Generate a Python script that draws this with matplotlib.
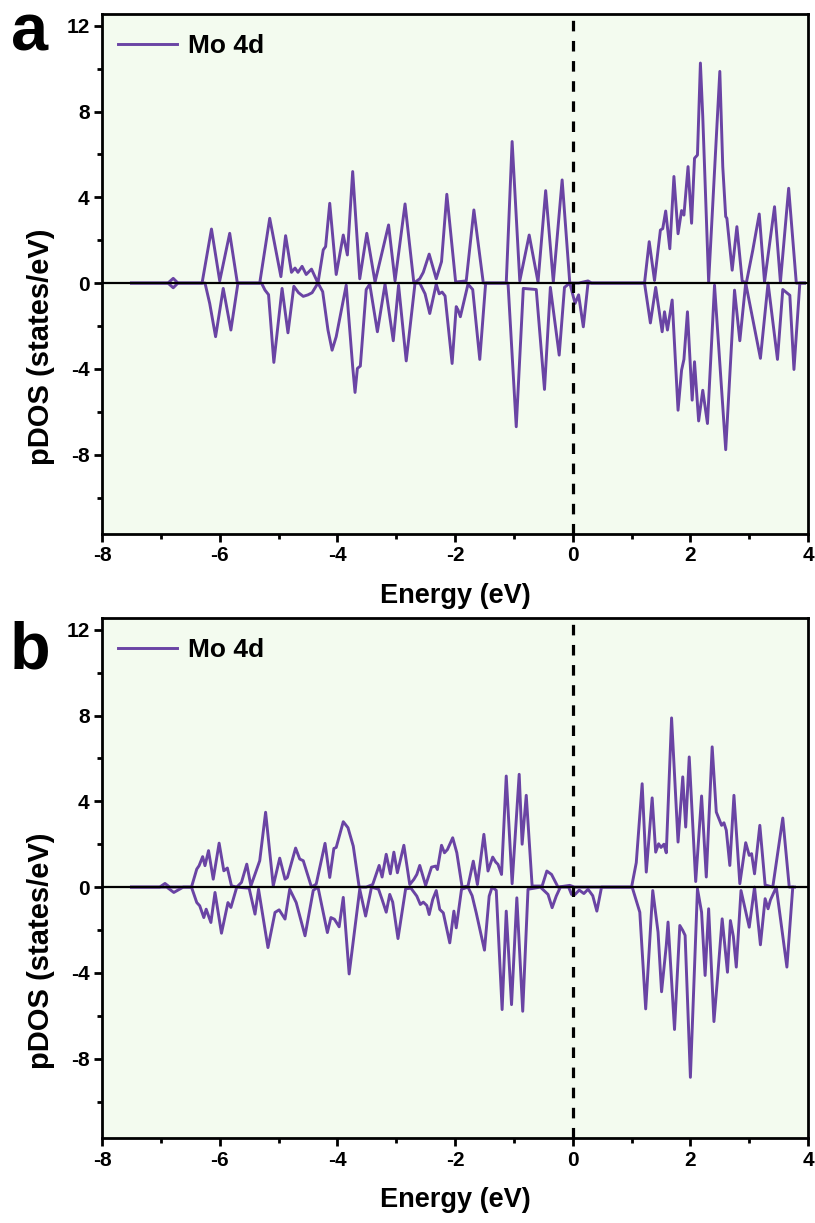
import numpy as np
import matplotlib
matplotlib.use("Agg")
import matplotlib.pyplot as plt
from matplotlib.ticker import MultipleLocator

plt.rcParams['font.family'] = ['Liberation Sans', 'DejaVu Sans']
plt.rcParams['font.weight'] = 'bold'
plt.rcParams['axes.unicode_minus'] = False

# ---- panel a : Mo 4d, spin up / spin down ----
a_up_x = [-7.5, -6.88, -6.79, -6.71, -6.30, -6.14, -6.00, -5.83, -5.70, -5.32, -5.15, -4.96, -4.88,
          -4.78, -4.72, -4.67, -4.60, -4.53, -4.44, -4.33, -4.24, -4.20, -4.13, -4.02, -3.90, -3.83,
          -3.74, -3.62, -3.50, -3.36, -3.13, -3.02, -2.85, -2.70, -2.60, -2.54, -2.44, -2.32, -2.23,
          -2.14, -1.99, -1.81, -1.68, -1.52, -1.13, -1.03, -0.90, -0.74, -0.59, -0.46, -0.33, -0.18,
          -0.05, 0.10, 0.18, 0.26, 0.32, 1.22, 1.30, 1.39, 1.49, 1.53, 1.58, 1.65, 1.72, 1.79, 1.85,
          1.89, 1.96, 2.02, 2.07, 2.12, 2.17, 2.21, 2.31, 2.50, 2.55, 2.60, 2.62, 2.71, 2.79, 2.88,
          2.95, 3.06, 3.17, 3.26, 3.43, 3.53, 3.67, 3.80, 3.94]
a_up_y = [0, 0, 0.22, 0, 0, 2.52, 0.1, 2.32, 0, 0, 3.02, 0.3, 2.21,
          0.5, 0.7, 0.5, 0.78, 0.4, 0.65, 0, 1.55, 1.7, 3.72, 0.4, 2.24, 1.31,
          5.2, 0.2, 2.32, 0.05, 2.71, 0.1, 3.69, 0, 0.2, 0.5, 1.35, 0.2, 1.0,
          4.14, 0.05, 0.1, 3.41, 0, 0, 6.6, 0.1, 2.24, 0.05, 4.31, 0.05, 4.81,
          0, 0, 0.05, 0.1, 0, 0, 1.93, 0.12, 2.47, 2.54, 3.36, 1.6, 4.97, 2.30, 3.38,
          3.17, 5.43, 2.79, 5.82, 5.97, 10.26, 7.77, 0.05, 9.87, 5.43, 3.1, 3.02, 0.6, 2.63, 0.1,
          0, 1.53, 3.22, 0.05, 3.56, 0.05, 4.42, 0, 0]

a_dn_x = [-7.5, -6.88, -6.79, -6.71, -6.25, -6.17, -6.07, -5.94, -5.81, -5.69, -5.29, -5.23, -5.17,
          -5.08, -4.94, -4.84, -4.74, -4.66, -4.58, -4.50, -4.43, -4.33, -4.25, -4.16, -4.09, -4.02,
          -3.85, -3.74, -3.70, -3.66, -3.61, -3.51, -3.45, -3.32, -3.19, -3.05, -2.96, -2.83, -2.68,
          -2.60, -2.51, -2.43, -2.32, -2.27, -2.22, -2.17, -2.05, -1.98, -1.95, -1.91, -1.78, -1.70,
          -1.58, -1.48, -1.10, -0.96, -0.84, -0.62, -0.48, -0.38, -0.23, -0.14, -0.05, 0.04, 0.10,
          0.18, 0.26, 1.22, 1.32, 1.41, 1.52, 1.56, 1.61, 1.69, 1.79, 1.85, 1.89, 1.95, 2.03, 2.07,
          2.14, 2.21, 2.29, 2.41, 2.60, 2.75, 2.84, 2.94, 3.19, 3.32, 3.48, 3.57, 3.69, 3.76, 3.86, 3.94]
a_dn_y = [0, 0, -0.22, 0, 0, -0.95, -2.5, -0.25, -2.19, 0, 0, -0.33, -0.54,
          -3.70, -0.25, -2.32, -0.15, -0.45, -0.62, -0.55, -0.45, 0, -0.4, -2.19, -3.13, -2.5,
          -0.1, -3.9, -5.1, -3.98, -3.87, -0.3, -0.05, -2.27, -0.05, -2.69, -0.1, -3.63, 0,
          0, -0.5, -1.42, -0.05, -0.5, -0.42, -0.6, -3.75, -1.1, -1.25, -1.57, -0.05, -0.3,
          -3.56, 0, 0, -6.7, -0.25, -0.3, -4.96, -0.2, -3.36, -0.2, 0, -0.95, -0.55,
          -2.04, 0, 0, -1.86, -0.2, -2.27, -1.34, -2.19, -0.79, -5.93, -4.06, -3.56, -1.34, -5.46, -3.67,
          -6.43, -5.0, -6.55, -0.1, -7.77, -0.33, -2.69, 0, -3.51, 0, -3.56, -0.3, -0.57, -4.03, 0, 0]

# ---- panel b ----
b_up_x = [-7.5, -7.02, -6.93, -6.85, -6.48, -6.39, -6.35, -6.29, -6.25, -6.19, -6.11, -6.01, -5.93,
          -5.87, -5.80, -5.71, -5.63, -5.54, -5.47, -5.39, -5.32, -5.22, -5.09, -4.98, -4.89, -4.85,
          -4.71, -4.64, -4.58, -4.44, -4.36, -4.21, -4.13, -4.06, -4.02, -3.90, -3.82, -3.73, -3.63,
          -3.51, -3.40, -3.29, -3.24, -3.17, -3.10, -3.04, -2.98, -2.87, -2.77, -2.70, -2.65, -2.60,
          -2.50, -2.40, -2.33, -2.30, -2.23, -2.18, -2.13, -2.04, -1.97, -1.88, -1.78, -1.69, -1.62,
          -1.51, -1.44, -1.36, -1.31, -1.27, -1.21, -1.13, -1.03, -0.91, -0.86, -0.79, -0.69, -0.52,
          -0.44, -0.36, -0.25, -0.05, 0.03, 1.00, 1.08, 1.18, 1.25, 1.35, 1.41, 1.46, 1.50, 1.55,
          1.59, 1.68, 1.79, 1.87, 1.92, 1.98, 2.09, 2.19, 2.27, 2.37, 2.44, 2.53, 2.57, 2.61, 2.67,
          2.74, 2.84, 2.94, 3.00, 3.04, 3.09, 3.18, 3.27, 3.40, 3.57, 3.68, 3.77]
b_up_y = [0, 0, 0.17, 0, 0, 0.84, 1.0, 1.42, 1.0, 1.70, 0.37, 2.05, 0.76,
          0.89, 0.06, 0, 0.22, 1.07, 0.06, 0.68, 1.23, 3.49, 0.06, 1.35, 0.37, 0.45,
          1.82, 1.31, 1.23, 0, 0.14, 2.04, 0.45, 1.80, 1.85, 3.05, 2.77, 1.91, 0,
          0, 0.12, 1.01, 0.47, 1.53, 0.62, 1.63, 0.67, 1.95, 0.12, 0.36, 0.59, 1.01,
          0.08, 0.93, 0.98, 0.82, 1.95, 1.60, 1.75, 2.30, 1.6, 0, 0.05, 1.21, 0.12,
          2.46, 0.75, 1.40, 1.17, 1.06, 0.59, 5.18, 0.16, 5.26, 2.0, 4.28, 0.05, 0.05,
          0.75, 0.59, 0, 0.08, 0, 0, 1.14, 4.82, 0.70, 4.16, 1.63, 2.02, 1.85, 2.0,
          1.60, 7.89, 2.10, 5.14, 2.80, 6.07, 0.26, 4.25, 0.47, 6.54, 3.50, 2.88, 3.0, 2.65, 1.01,
          4.28, 0.16, 2.07, 1.48, 1.56, 0.62, 2.88, 0.1, 0, 3.22, 0, 0]

b_dn_x = [-7.5, -6.90, -6.78, -6.62, -6.48, -6.39, -6.34, -6.27, -6.23, -6.15, -6.08, -5.97, -5.86,
          -5.81, -5.71, -5.50, -5.40, -5.34, -5.18, -5.06, -4.99, -4.89, -4.81, -4.70, -4.55, -4.41,
          -4.33, -4.17, -4.11, -4.05, -3.97, -3.90, -3.80, -3.62, -3.52, -3.42, -3.30, -3.24, -3.17,
          -3.11, -3.06, -2.97, -2.84, -2.75, -2.65, -2.59, -2.54, -2.48, -2.44, -2.38, -2.32, -2.26,
          -2.20, -2.09, -2.02, -1.98, -1.89, -1.78, -1.71, -1.64, -1.50, -1.42, -1.37, -1.30, -1.20,
          -1.13, -1.04, -0.95, -0.85, -0.76, -0.55, -0.42, -0.35, -0.28, -0.21, -0.07, -0.02, 0.04,
          0.11, 0.19, 0.26, 0.34, 0.41, 0.49, 1.01, 1.14, 1.24, 1.36, 1.45, 1.51, 1.59, 1.62, 1.73,
          1.82, 1.87, 1.91, 2.00, 2.12, 2.19, 2.25, 2.31, 2.40, 2.46, 2.54, 2.63, 2.68, 2.73, 2.78,
          2.86, 3.00, 3.09, 3.19, 3.27, 3.32, 3.36, 3.46, 3.64, 3.74]
b_dn_y = [0, 0, -0.25, 0, 0, -0.72, -0.87, -1.42, -1.03, -1.65, -0.25, -2.15, -0.72,
          -0.95, 0, -0.05, -1.26, -0.1, -2.82, -1.18, -1.06, -1.49, -0.1, -0.72, -2.27, -0.15,
          0, -2.12, -1.42, -1.5, -1.85, -0.48, -4.05, -0.1, -1.35, 0, -0.1, -0.58, -1.17,
          -0.34, -0.7, -2.40, -0.08, -0.05, -0.42, -0.81, -0.7, -0.86, -1.28, -0.58, -0.16, -1.04,
          -1.20, -2.60, -1.12, -1.90, -0.1, 0, -0.4, -1.20, -2.94, -0.42, 0, -0.15, -5.71,
          -1.12, -5.48, -0.5, -5.79, -0.1, 0, -0.34, -0.96, -0.42, 0, 0, -0.34, -0.34,
          -0.14, -0.30, -0.1, -0.4, -1.12, 0, 0, -1.17, -5.68, -0.16, -2.1, -4.88, -2.72, -1.63, -6.64,
          -1.79, -2.02, -2.25, -8.87, -0.08, -1.17, -4.12, -1.01, -6.27, -4.28, -1.48, -3.97, -1.56, -2.3, -3.73,
          -0.16, -1.87, 0, -2.69, -0.54, -1.01, -0.6, 0, -3.73, 0]

panels = [
    ("a", a_up_x, a_up_y, a_dn_x, a_dn_y),
    ("b", b_up_x, b_up_y, b_dn_x, b_dn_y),
]

line_color = "#6a44a4"
face = "#f3fbef"

fig = plt.figure(figsize=(8.15, 12.23), dpi=100)
boxes = [[0.1252, 0.5634, 0.8663, 0.4252], [0.1252, 0.0695, 0.8663, 0.4252]]
letter_pos = [(0.014, 0.9591), (0.012, 0.4538)]

for i, (tag, ux, uy, dx, dy) in enumerate(panels):
    ax = fig.add_axes(boxes[i])
    ax.set_facecolor(face)
    ax.plot(ux, uy, color=line_color, lw=2.1, label="Mo 4d", zorder=3,
            solid_joinstyle="round")
    ax.plot(dx, dy, color=line_color, lw=2.1, zorder=3, solid_joinstyle="round")
    ax.axhline(0, color="black", lw=1.6, zorder=4)
    ax.axvline(0, color="black", lw=2.3, dashes=(3.3, 3.0), zorder=5)

    ax.set_xlim(-8, 4)
    ax.set_ylim(-11.7, 12.55)
    ax.xaxis.set_major_locator(MultipleLocator(2))
    ax.xaxis.set_minor_locator(MultipleLocator(1))
    ax.set_yticks([-8, -4, 0, 4, 8, 12])
    ax.yaxis.set_minor_locator(MultipleLocator(2))
    ax.tick_params(which="major", direction="out", length=6, width=2, labelsize=15, pad=3)
    ax.tick_params(which="minor", direction="out", length=3.5, width=2)
    for lab in ax.get_xticklabels() + ax.get_yticklabels():
        lab.set_fontweight("bold")
    for sp in ax.spines.values():
        sp.set_linewidth(2.0)

    ax.set_xlabel("Energy (eV)", fontsize=19.5, fontweight="bold")
    ax.set_ylabel("pDOS (states/eV)", fontsize=21, fontweight="bold")
    ax.xaxis.set_label_coords(0.5, -0.094)
    ax.yaxis.set_label_coords(-0.066, 0.36)

    leg = ax.legend(loc="upper left", bbox_to_anchor=(0.0227, 0.9615), frameon=False,
                    fontsize=19, handlelength=2.24, handletextpad=0.42,
                    borderpad=0, borderaxespad=0)
    for t in leg.get_texts():
        t.set_fontweight("bold")

    fig.text(letter_pos[i][0], letter_pos[i][1], tag, fontsize=48, fontweight="bold",
             ha="left", va="baseline")

fig.savefig("out.png", dpi=100)
